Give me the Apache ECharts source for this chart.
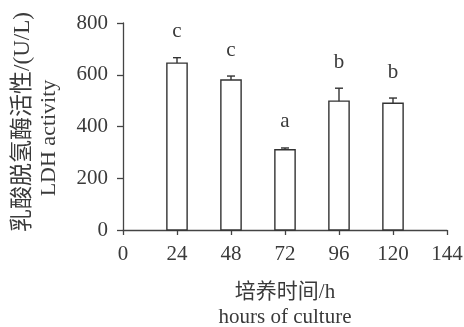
<!DOCTYPE html>
<html>
<head>
<meta charset="utf-8">
<script src="https://cdn.jsdelivr.net/npm/echarts@6/dist/echarts.min.js"></script>
<style>
html,body{margin:0;padding:0;background:#fff;}
#chart{width:464px;height:327px;}
</style>
</head>
<body>
<div id="chart"></div>
<script>
// Data
var hours = [24, 48, 72, 96, 120];
var activity = [645, 580, 310, 498, 490];
var errors = [21, 15, 7, 50, 20];
var letters = ['c', 'c', 'a', 'b', 'b'];
var xTicks = [0, 24, 48, 72, 96, 120, 144];
var yTicks = [0, 200, 400, 600, 800];

var serif = "'Liberation Serif', 'Noto Sans CJK SC', serif";
var axisColor = '#444';
var textColor = '#3a3a3a';

var data = hours.map(function (h, i) { return [h, activity[i], errors[i], letters[i]]; });

var chart = echarts.init(document.getElementById('chart'));
chart.setOption({
  animation: false,
  backgroundColor: '#fff',
  grid: { left: 123, right: 17, top: 23, bottom: 97, containLabel: false, outerBoundsMode: 'none' },
  xAxis: {
    type: 'value',
    min: xTicks[0], max: xTicks[xTicks.length - 1], interval: 24,
    splitLine: { show: false },
    axisLine: { show: true, lineStyle: { color: axisColor, width: 1.3 } },
    axisTick: { show: true, inside: false, length: 5, lineStyle: { color: axisColor, width: 1.3 } },
    axisLabel: { color: textColor, fontFamily: serif, fontSize: 21, margin: 14 },
    name: '培养时间/h\nhours of culture',
    nameLocation: 'middle',
    nameGap: 50,
    nameTextStyle: { color: textColor, fontFamily: serif, fontSize: 21, lineHeight: 25 }
  },
  yAxis: {
    type: 'value',
    min: yTicks[0], max: yTicks[yTicks.length - 1], interval: 200,
    splitLine: { show: false },
    axisLine: { show: true, lineStyle: { color: axisColor, width: 1.3 } },
    axisTick: { show: true, inside: false, length: 6, lineStyle: { color: axisColor, width: 1.3 } },
    axisLabel: { color: textColor, fontFamily: serif, fontSize: 21, margin: 15 }
  },
  graphic: [
    {
      type: 'text', x: 23, y: 122, rotation: Math.PI / 2,
      style: { text: '乳酸脱氢酶活性/(U/L)', fill: textColor, font: '23px ' + serif, textAlign: 'center', textVerticalAlign: 'middle' }
    },
    {
      type: 'text', x: 49, y: 138, rotation: Math.PI / 2,
      style: { text: 'LDH activity', fill: textColor, font: '22px ' + serif, textAlign: 'center', textVerticalAlign: 'middle' }
    }
  ],
  series: [{
    type: 'custom',
    data: data,
    encode: { x: 0, y: 1 },
    renderItem: function (params, api) {
      var x = api.value(0), v = api.value(1), e = api.value(2);
      var halfW = 4.5; // bar half-width in hours
      var p0 = api.coord([x - halfW, 0]);
      var p1 = api.coord([x + halfW, v]);
      var top = api.coord([x, v]);
      var etop = api.coord([x, v + e]);
      var lbl = letters[params.dataIndex];
      return {
        type: 'group',
        children: [
          { type: 'rect', shape: { x: p0[0], y: p1[1], width: p1[0] - p0[0], height: p0[1] - p1[1] },
            style: { fill: '#fff', stroke: '#333', lineWidth: 1.4 } },
          { type: 'line', shape: { x1: top[0], y1: top[1], x2: etop[0], y2: etop[1] },
            style: { stroke: '#333', lineWidth: 1.4 } },
          { type: 'line', shape: { x1: etop[0] - 4, y1: etop[1], x2: etop[0] + 4, y2: etop[1] },
            style: { stroke: '#333', lineWidth: 1.4 } },
          { type: 'text', x: etop[0], y: etop[1] - 26,
            style: { text: lbl, fill: textColor, font: '21px ' + serif, textAlign: 'center', textVerticalAlign: 'middle' } }
        ]
      };
    }
  }]
});
</script>
</body>
</html>
